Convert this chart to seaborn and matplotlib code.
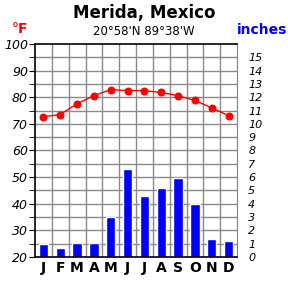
import matplotlib
matplotlib.use("Agg")
import matplotlib.pyplot as plt
import seaborn as sns
import pandas as pd
import numpy as np

months = ["J", "F", "M", "A", "M", "J", "J", "A", "S", "O", "N", "D"]
month_keys = [f"m{i}" for i in range(12)]
temp_f = [72.7, 73.5, 77.6, 80.6, 82.9, 82.5, 82.5, 81.8, 80.6, 78.8, 76.0, 73.1]
precip_in = [1.0, 0.7, 1.08, 1.08, 3.0, 6.6, 4.6, 5.2, 5.95, 4.0, 1.38, 1.22]
temp_ticks = [20, 30, 40, 50, 60, 70, 80, 90, 100]
precip_ticks = list(range(0, 16))

df = pd.DataFrame({"month": month_keys, "temp": temp_f, "precip": precip_in})

sns.set_style("white")
plt.rcParams["font.family"] = ["DejaVu Sans"]
plt.rcParams["text.color"] = "black"
plt.rcParams["xtick.color"] = "black"
plt.rcParams["ytick.color"] = "black"

fig = plt.figure(figsize=(2.88, 2.88), dpi=100)
ax = fig.add_axes([0.1215, 0.108, 0.7015, 0.739])

# grid
for x in np.arange(0.5, 11.5, 1):
    ax.axvline(x, color="#8a8a8a", lw=1, zorder=0)
for y in range(1, 16):
    ax.axhline(y, color="#8a8a8a", lw=1, zorder=0)

sns.barplot(data=df, x="month", y="precip", color="#0000FF", width=0.55,
            saturation=1, ax=ax, zorder=2, order=month_keys)
ax.set_xlim(-0.5, 11.5)
ax.set_ylim(0, 16)
ax.set_xlabel("")
ax.set_ylabel("")

axt = ax.twinx()
sns.lineplot(x=np.arange(12), y=temp_f, ax=axt, color="#FF0000", lw=1,
             marker="o", markersize=5, markeredgecolor="#FF0000")
axt.set_ylim(20, 100)
axt.set_xlim(-0.5, 11.5)
axt.yaxis.tick_left()
axt.set_yticks(temp_ticks)
axt.set_yticklabels([str(t) for t in temp_ticks], fontsize=9, style="italic")
axt.set_yticks(list(range(25, 100, 10)), minor=True)
axt.tick_params(axis="y", which="major", length=4, direction="out", pad=1, colors="black")
axt.tick_params(axis="y", which="minor", length=4, direction="out", colors="black")
axt.set_ylabel("")
for s in axt.spines.values():
    s.set_visible(False)

# right-hand precipitation axis labels
ax.yaxis.tick_right()
ax.set_yticks(precip_ticks)
ax.set_yticklabels([str(t) for t in precip_ticks], fontsize=8, style="italic")
ax.tick_params(axis="y", length=0, pad=8, left=False, labelleft=False,
               right=True, labelright=True, colors="black")
ax.set_xticks(range(12))
ax.set_xticklabels(months, fontsize=10, fontweight="bold")
ax.tick_params(axis="x", length=0, pad=3, colors="black")
for s in ["left", "bottom", "top"]:
    ax.spines[s].set_color("black")
    ax.spines[s].set_linewidth(1.2)
ax.spines["right"].set_color("#808080")

fig.text(0.5, 0.955, "Merida, Mexico", ha="center", va="center", fontsize=12,
         fontweight="bold", color="black")
fig.text(0.5, 0.89, "20°58'N 89°38'W", ha="center", va="center", fontsize=8.5, color="black")
fig.text(0.07, 0.9, "°F", ha="center", va="center", fontsize=10, fontweight="bold", color="#FF0000")
fig.text(0.91, 0.895, "inches", ha="center", va="center", fontsize=10, fontweight="bold", color="#0000FF")

fig.savefig("out.png", dpi=100, facecolor="white")
